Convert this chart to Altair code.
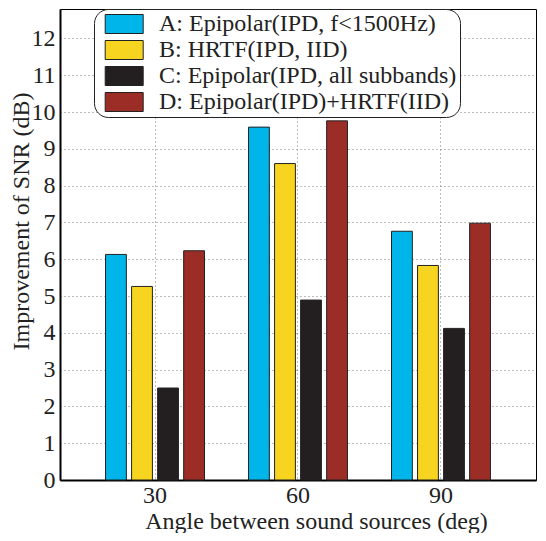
import altair as alt
import pandas as pd

angles = ["30", "60", "90"]
series = [
    "A: Epipolar(IPD, f<1500Hz)",
    "B: HRTF(IPD, IID)",
    "C: Epipolar(IPD, all subbands)",
    "D: Epipolar(IPD)+HRTF(IID)",
]
colors = ["#00B5EA", "#F7D420", "#231F20", "#9B2D26"]
vals_A = [6.13, 9.59, 6.76]
vals_B = [5.26, 8.60, 5.83]
vals_C = [2.50, 4.89, 4.12]
vals_D = [6.23, 9.76, 6.98]
y_ticks = list(range(0, 13))

rows = []
for s, vals in zip(series, [vals_A, vals_B, vals_C, vals_D]):
    for a, v in zip(angles, vals):
        rows.append({"angle": a, "series": s, "value": v})
df = pd.DataFrame(rows)

FONT = "'Times New Roman', 'Liberation Serif', Tinos, 'Nimbus Roman', serif"

chart = alt.Chart(df).mark_bar(stroke="#222", strokeWidth=1).encode(
    x=alt.X(
        "angle:N",
        sort=angles,
        scale=alt.Scale(paddingInner=0.308, paddingOuter=0.3185),
        axis=alt.Axis(
            title="Angle between sound sources (deg)",
            labelAngle=0,
            grid=True,
            tickSize=0,
            labelPadding=3,
            titleX=256,
            titleY=48,
            titleBaseline="alphabetic",
        ),
    ),
    xOffset=alt.XOffset(
        "series:N", sort=series, scale=alt.Scale(paddingInner=0.2, paddingOuter=0)
    ),
    y=alt.Y(
        "value:Q",
        scale=alt.Scale(domain=[0, 12.8], nice=False),
        axis=alt.Axis(
            title="Improvement of SNR (dB)",
            values=y_ticks,
            grid=True,
            tickSize=0,
            labelPadding=5,
            titleX=-32,
            titleY=212,
            titleBaseline="alphabetic",
        ),
    ),
    color=alt.Color(
        "series:N",
        sort=series,
        scale=alt.Scale(domain=series, range=colors),
        legend=alt.Legend(
            title=None,
            orient="none",
            legendX=34,
            legendY=0,
            symbolType="M-0.4,-1H3.6V1H-0.4Z",
            symbolSize=361,
            symbolStrokeColor="#222",
            symbolStrokeWidth=1,
            labelFont=FONT,
            labelFontSize=24,
            labelColor="#222",
            labelOffset=38,
            labelLimit=400,
            rowPadding=2,
            padding=3,
            cornerRadius=14,
            strokeColor="#222",
            fillColor="white",
        ),
    ),
).properties(
    width=476,
    height=471,
    padding={"left": 52, "top": 1, "right": 2, "bottom": 53},
    autosize=alt.AutoSizeParams(type="none"),
).configure(
    font=FONT,
    style={"guide-label": {"font": FONT}},
).configure_view(
    stroke="#000", strokeWidth=1
).configure_axis(
    labelFont=FONT,
    labelFontSize=24,
    labelColor="#222",
    titleFont=FONT,
    titleFontSize=24,
    titleFontWeight="normal",
    titleColor="#222",
    domainColor="#000",
    domainWidth=2,
    gridColor="#777",
    gridDash=[1, 3],
    gridWidth=1,
).configure_legend(
    labelFont=FONT,
    labelFontSize=24,
)

chart.save("out.html", embed_options={"renderer": "svg", "actions": False})
